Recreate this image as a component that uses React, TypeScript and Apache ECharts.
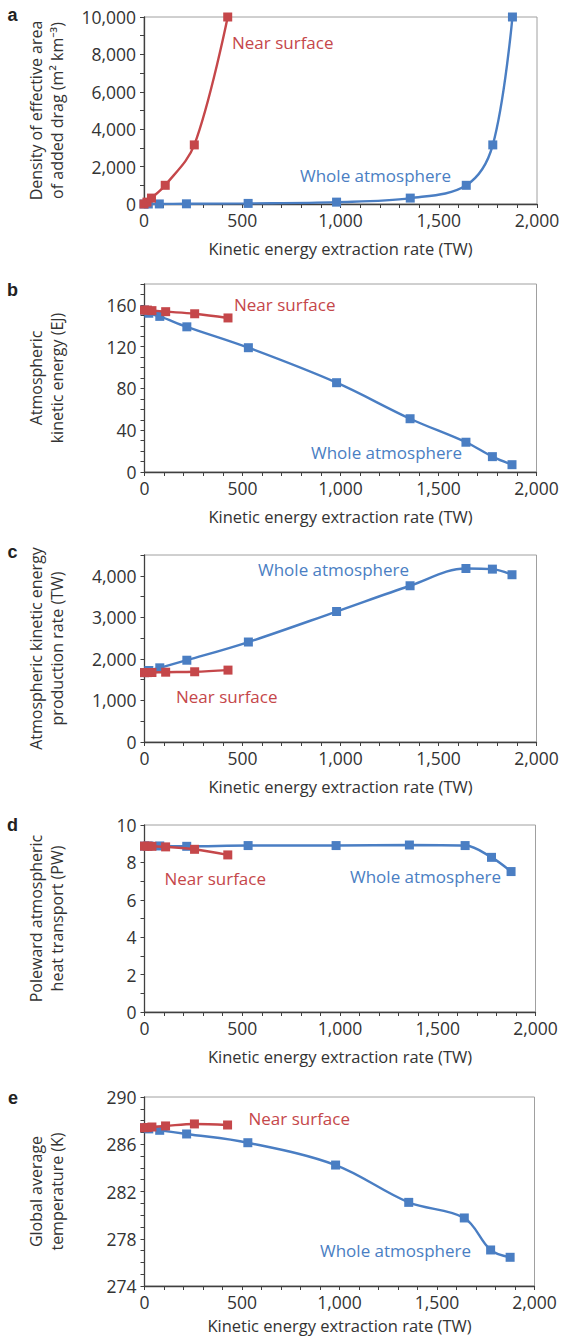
import React, { useEffect, useRef } from 'react';
import * as echarts from 'echarts';

// Kinetic energy extraction rate (TW) for each added-drag experiment
const RED_X = [0, 15, 38, 108, 256, 426];
const BLUE_X = [0, 22, 78, 216, 530, 980, 1355, 1640, 1775, 1875];

// a: density of effective area of added drag (m2 km-3)
const DRAG_RED = [0, 100, 316, 1000, 3160, 10000];
const DRAG_BLUE = [0, 1, 3.16, 10, 31.6, 100, 316, 1000, 3160, 10000];
// b: atmospheric kinetic energy (EJ)
const KE_RED = [155, 155, 154.5, 153.5, 151.5, 147.5];
const KE_BLUE = [155, 152, 149, 139, 119, 85.5, 51, 28.5, 14.7, 7];
// c: atmospheric kinetic energy production rate (TW)
const PROD_RED = [1670, 1670, 1673, 1680, 1690, 1730];
const PROD_BLUE = [1670, 1720, 1785, 1968, 2406, 3140, 3760, 4175, 4160, 4025];
// d: poleward atmospheric heat transport (PW)
const HEAT_RED = [8.87, 8.87, 8.86, 8.83, 8.7, 8.4];
const HEAT_BLUE = [8.87, 8.88, 8.88, 8.86, 8.9, 8.9, 8.93, 8.9, 8.27, 7.51];
// e: global average temperature (K)
const TEMP_RED = [287.4, 287.42, 287.46, 287.55, 287.72, 287.63];
const TEMP_BLUE = [287.4, 287.3, 287.18, 286.87, 286.13, 284.24, 281.08, 279.76, 277.05, 276.43];

const PANEL_LETTERS = ['a', 'b', 'c', 'd', 'e'];
const Y_NAMES = [
  'Density of effective area\nof added drag (m\u00B2 km\u207B\u00B3)',
  'Atmospheric\nkinetic energy (EJ)',
  'Atmospheric kinetic energy\nproduction rate (TW)',
  'Poleward atmospheric\nheat transport (PW)',
  'Global average\ntemperature (K)',
];
const X_NAME = 'Kinetic energy extraction rate (TW)';
const RED_NAME = 'Near surface';
const BLUE_NAME = 'Whole atmosphere';
const X_MIN = 0;
const X_MAX = 2000;
const X_LABEL_STEP = 500;

const RED_SETS = [DRAG_RED, KE_RED, PROD_RED, HEAT_RED, TEMP_RED];
const BLUE_SETS = [DRAG_BLUE, KE_BLUE, PROD_BLUE, HEAT_BLUE, TEMP_BLUE];

// axis extents: [min, max, tick interval, label step, highest labelled value]
const Y_AXES: [number, number, number, number, number][] = [
  [0, 10000, 1000, 2000, 10000],
  [0, 180, 10, 40, 160],
  [0, 4500, 500, 1000, 4000],
  [0, 10, 1, 2, 10],
  [274, 290, 1, 4, 290],
];

const RED = '#c5474a';
const BLUE = '#4a7ec3';
const TEXT = '#333333';
const FONT = '"Open Sans", "Noto Sans", sans-serif';

const GRIDS = [
  { left: 144, top: 17, width: 393, height: 187 },
  { left: 144.5, top: 284, width: 392, height: 188 },
  { left: 144.5, top: 555, width: 392, height: 187 },
  { left: 144.5, top: 825, width: 391, height: 187 },
  { left: 144.5, top: 1097, width: 390, height: 189 },
];
const X_NAME_GAPS = [36, 36, 36, 36, 31];
const LETTER_POS = [
  [12.6, 15], [12.6, 290], [12.6, 552], [12.6, 825], [13, 1098],
];
const RED_LABEL_POS = [
  [232, 42], [234, 304], [176, 696], [164.5, 878], [248.5, 1118],
];
const BLUE_LABEL_POS = [
  [300, 175], [311, 452], [258, 569], [350, 876], [320, 1250],
];

const fmt = (v: number) => v.toLocaleString('en-US');

export default function App() {
  const ref = useRef<HTMLDivElement>(null);
  useEffect(() => {
    document.body.style.margin = '0';
    const chart = echarts.init(ref.current!, undefined, { renderer: 'svg' });
    const grid: any[] = [];
    const xAxis: any[] = [];
    const yAxis: any[] = [];
    const series: any[] = [];
    const graphic: any[] = [];
    for (let i = 0; i < 5; i++) {
      grid.push({
        ...GRIDS[i],
        show: true,
        borderColor: '#a0a0a0',
        borderWidth: 1,
        containLabel: false,
      });
      xAxis.push({
        type: 'value',
        gridIndex: i,
        min: X_MIN,
        max: X_MAX,
        interval: 100,
        name: X_NAME,
        nameLocation: 'middle',
        nameGap: X_NAME_GAPS[i],
        nameTextStyle: { fontSize: 16.5, color: TEXT, fontFamily: FONT },
        axisLine: { show: true, lineStyle: { color: '#404040', width: 1.3 } },
        axisTick: { show: true, inside: false, length: 4, lineStyle: { color: '#404040' } },
        splitLine: { show: false },
        axisLabel: {
          margin: 7,
          fontSize: 17.5,
          color: TEXT,
          fontFamily: FONT,
          formatter: (v: number) => (Math.abs(v % X_LABEL_STEP) < 1e-6 ? fmt(v) : ''),
        },
      });
      const [mn, mx, itv, step, lmax] = Y_AXES[i];
      yAxis.push({
        type: 'value',
        gridIndex: i,
        min: mn,
        max: mx,
        interval: itv,
        name: Y_NAMES[i],
        nameLocation: 'middle',
        nameRotate: 90,
        nameGap: 77,
        nameTextStyle: { fontSize: 16, lineHeight: 21, color: TEXT, fontFamily: FONT, align: 'center' },
        axisLine: { show: true, lineStyle: { color: '#404040', width: 1.3 } },
        axisTick: { show: true, inside: false, length: 4, lineStyle: { color: '#404040' } },
        splitLine: { show: false },
        axisLabel: {
          margin: 8,
          fontSize: 17.5,
          color: TEXT,
          fontFamily: FONT,
          formatter: (v: number) => {
            const r = Math.abs((v - mn) % step);
            const ok = (r < 1e-6 || Math.abs(r - step) < 1e-6) && v <= lmax + 1e-6;
            return ok ? fmt(Math.round(v)) : '';
          },
        },
      });
      const mk = (xs: number[], ys: number[]) => xs.map((x, j) => [x, ys[j]]);
      series.push({
        type: 'line',
        name: BLUE_NAME,
        xAxisIndex: i,
        yAxisIndex: i,
        data: mk(BLUE_X, BLUE_SETS[i]),
        smooth: 0.35,
        symbol: 'rect',
        symbolSize: 9,
        lineStyle: { color: BLUE, width: 2.4 },
        itemStyle: { color: BLUE },
        z: 2,
      });
      series.push({
        type: 'line',
        name: RED_NAME,
        xAxisIndex: i,
        yAxisIndex: i,
        data: mk(RED_X, RED_SETS[i]),
        smooth: 0.35,
        symbol: 'rect',
        symbolSize: 9,
        lineStyle: { color: RED, width: 2.4 },
        itemStyle: { color: RED },
        z: 3,
      });
      graphic.push({
        type: 'text',
        x: LETTER_POS[i][0],
        y: LETTER_POS[i][1],
        style: {
          text: PANEL_LETTERS[i],
          fontSize: 18,
          fontWeight: 'bold',
          fontFamily: '"Liberation Sans", Arial, sans-serif',
          fill: '#222',
          align: 'center',
          verticalAlign: 'middle',
        },
      });
      graphic.push({
        type: 'text',
        x: RED_LABEL_POS[i][0],
        y: RED_LABEL_POS[i][1],
        style: { text: RED_NAME, fontSize: 17, fontFamily: FONT, fill: RED, align: 'left', verticalAlign: 'middle' },
      });
      graphic.push({
        type: 'text',
        x: BLUE_LABEL_POS[i][0],
        y: BLUE_LABEL_POS[i][1],
        style: { text: BLUE_NAME, fontSize: 17, fontFamily: FONT, fill: BLUE, align: 'left', verticalAlign: 'middle' },
      });
    }
    chart.setOption({
      animation: false,
      backgroundColor: '#ffffff',
      grid,
      xAxis,
      yAxis,
      series,
      graphic,
    });
    return () => chart.dispose();
  }, []);
  return <div ref={ref} style={{ width: 563, height: 1338 }} />;
}
